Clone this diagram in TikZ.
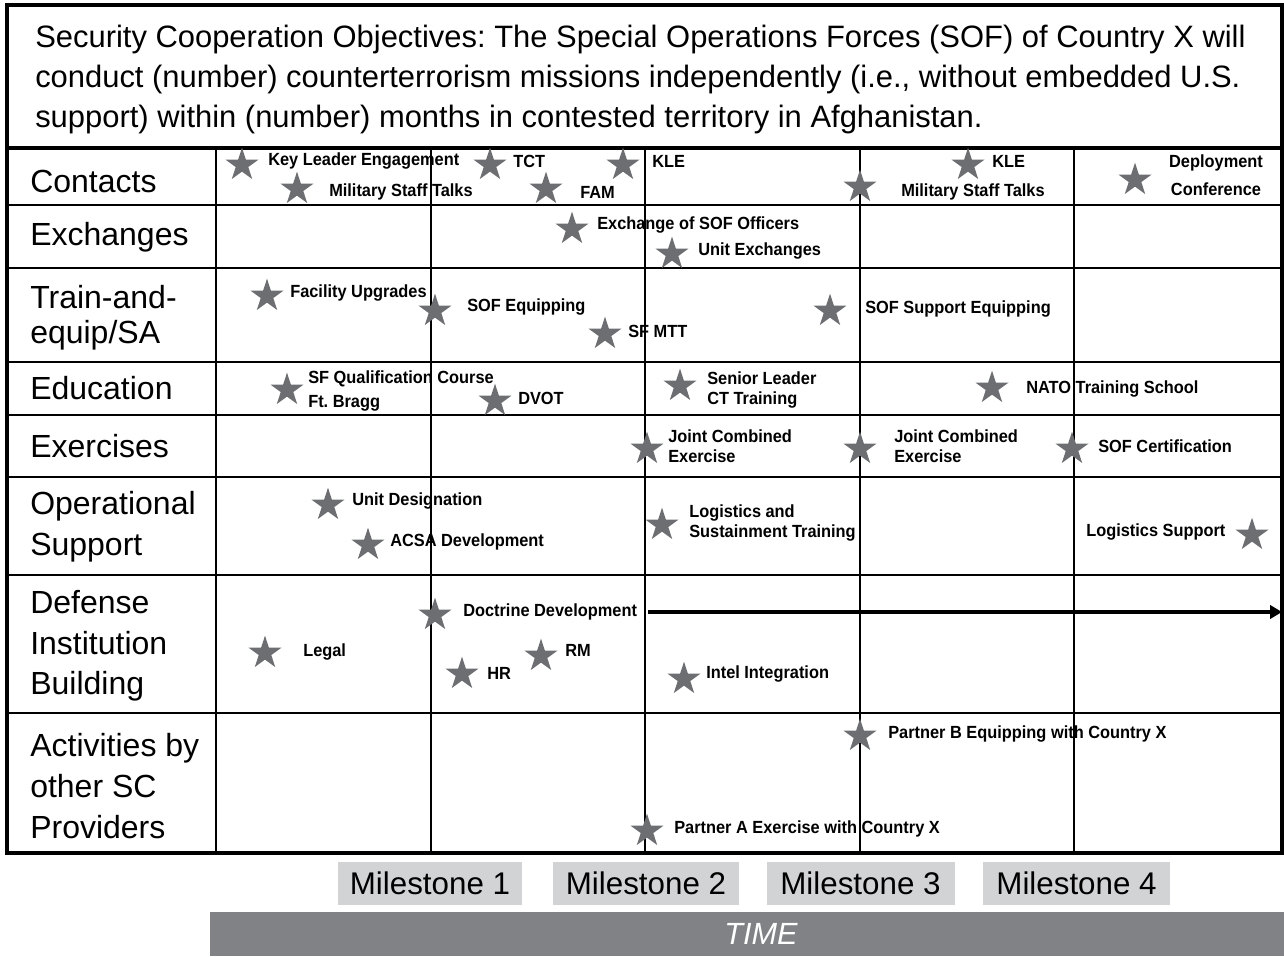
\documentclass[tikz,border=0pt]{standalone}
\usepackage{fontspec}
\setmainfont{Liberation Sans}
\usetikzlibrary{shapes.geometric,arrows.meta}
\definecolor{stargray}{HTML}{6D6E71}
\definecolor{msgray}{HTML}{D1D3D4}
\definecolor{timegray}{HTML}{808285}
\newcommand\SL[6]{%
  \node[starmark] (s#1) at (#2,#3) {};
  \node[lab] (l#1) at (#4,#5) {#6};}
\frenchspacing
\begin{document}
\begin{tikzpicture}[x=0.75pt,y=-0.75pt,
  gridline/.style={line width=1.9pt},
  frameline/.style={line width=2.8pt},
  starmark/.style={star,star points=5,star point ratio=2.618,fill=stargray,draw=none,minimum size=26pt,inner sep=0pt,outer sep=0pt},
  lab/.style={anchor=west,inner sep=0pt,align=left,font=\fontsize{13.2}{15}\selectfont\bfseries,xscale=0.93,transform shape},
  rowlab/.style={anchor=west,inner sep=0pt,align=left,font=\fontsize{24}{30.5}\selectfont},
  msbox/.style={fill=msgray,minimum height=32pt,inner sep=0pt,font=\fontsize{23.5}{28}\selectfont},
]
\useasboundingbox (0,0) rectangle (1284,956);

% header text
\node[anchor=west,inner sep=0pt,align=left,font=\fontsize{23.2}{30}\selectfont] (hdr) at (35,80)
 {Security Cooperation Objectives: The Special Operations Forces (SOF) of Country X will\\
  conduct (number) counterterrorism missions independently (i.e., without embedded U.S.\\
  support) within (number) months in contested territory in Afghanistan.};

% grid
\foreach \yy in {205,268,362,415,477,575,713}
  \draw[gridline] (7,\yy) -- (1282,\yy);
\foreach \xx in {216,431,645,860,1074}
  \draw[gridline] (\xx,148) -- (\xx,853);
\draw[frameline] (7,148) -- (1282,148);
\draw[frameline] (7,5) rectangle (1282,853);
\draw[line width=3.4pt] (6,853) -- (1283,853);

% row labels
\node[rowlab] (r1) at (30,181) {Contacts};
\node[rowlab] (r2) at (30,237) {Exchanges};
\node[rowlab,font=\fontsize{24}{26.5}\selectfont] (r3) at (30,318) {Train-and-\\equip/SA};
\node[rowlab] (r4) at (30,388) {Education};
\node[rowlab] (r5) at (30,446) {Exercises};
\node[rowlab] (r6) at (30,527) {Operational\\Support};
\node[rowlab] (r7) at (30,646) {Defense\\Institution\\Building};
\node[rowlab] (r8) at (30,786) {Activities by\\other SC\\Providers};

% Contacts
\SL{kle1}{242}{165}{268}{161}{Key Leader Engagement}
\SL{mst1}{297}{189}{329}{192}{Military Staff Talks}
\SL{tct}{490}{165}{513}{161}{TCT}
\SL{fam}{546}{189}{580}{192}{FAM}
\SL{kle2}{623}{165}{652}{161}{KLE}
\SL{mst2}{860}{187}{901}{192}{Military Staff Talks}
\SL{kle3}{968}{165}{992}{161}{KLE}
\node[starmark] (sdep) at (1135,180) {};
\node[lab,anchor=center,align=center,font=\fontsize{13.2}{21}\selectfont\bfseries] (ldep) at (1216,175) {Deployment\\Conference};

% Exchanges
\SL{exo}{572}{229}{597}{225}{Exchange of SOF Officers}
\SL{ue}{672}{254}{698}{251}{Unit Exchanges}

% Train-and-equip
\SL{fu}{267}{296}{290}{293}{Facility Upgrades}
\SL{se}{435}{311}{467}{307}{SOF Equipping}
\SL{mtt}{605}{334}{628}{331}{SF MTT}
\SL{sse}{830}{311}{865}{309}{SOF Support Equipping}

% Education
\node[starmark] (ssfq) at (287,390) {};
\node[lab,font=\fontsize{13.2}{18}\selectfont\bfseries] (lsfq) at (308,391) {SF Qualification Course\\Ft. Bragg};
\SL{dvot}{495}{401}{518}{398}{DVOT}
\SL{slct}{680}{386}{707}{390}{Senior Leader\\CT Training}
\SL{nato}{992}{388}{1026}{389}{NATO Training School}

% Exercises
\SL{jce1}{647}{449}{668}{446}{Joint Combined\\Exercise}
\SL{jce2}{860}{449}{894}{446}{Joint Combined\\Exercise}
\SL{sofc}{1072}{449}{1098}{446}{SOF Certification}

% Operational Support
\SL{ud}{328}{505}{352}{501}{Unit Designation}
\SL{acsa}{368}{545}{390}{542}{ACSA Development}
\SL{lst}{662}{525}{689}{523}{Logistics and\\Sustainment Training}
\SL{ls}{1252}{535}{1086}{532}{Logistics Support}

% Defense Institution Building
\SL{doc}{435}{615}{463}{612}{Doctrine Development}
\coordinate (docend) at (1282,612);
\draw[line width=2.4pt,-{Triangle[length=9pt,width=10pt]}] ([xshift=8pt]ldoc.east) -- (docend);
\SL{legal}{265}{653}{303}{652}{Legal}
\SL{hr}{462}{674}{487}{673}{HR}
\SL{rm}{541}{656}{565}{650}{RM}
\SL{intel}{684}{679}{706}{674}{Intel Integration}

% Activities by other SC Providers
\SL{pb}{860}{736}{888}{734}{Partner B Equipping with Country X}
\SL{pa}{647}{831}{674}{829}{Partner A Exercise with Country X}

% Milestones
\node[msbox,minimum width=138pt] (m1) at (430,883.5) {Milestone 1};
\node[msbox,minimum width=139.5pt] (m2) at (646,883.5) {Milestone 2};
\node[msbox,minimum width=141pt] (m3) at (860.5,883.5) {Milestone 3};
\node[msbox,minimum width=140pt] (m4) at (1076.5,883.5) {Milestone 4};

% Time bar
\node[fill=timegray,minimum width=805.5pt,minimum height=33pt,inner sep=0pt] (bar) at (747,934) {};
\node[text=white,inner sep=0pt,font=\fontsize{23}{28}\selectfont\itshape] (time) at (761,934) {TIME};
\end{tikzpicture}
\end{document}
